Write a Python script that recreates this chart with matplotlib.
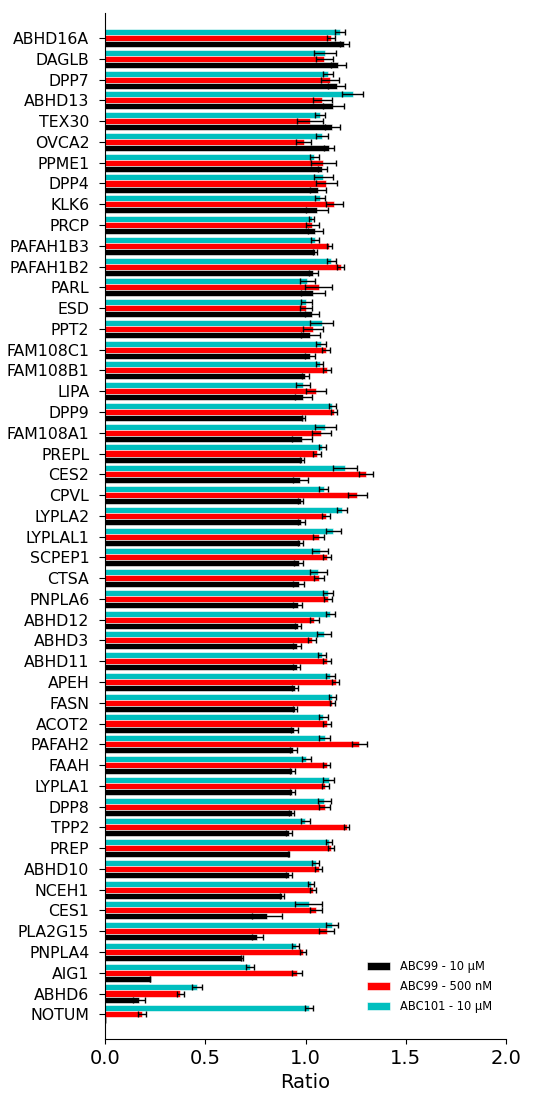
import numpy as np
import matplotlib
matplotlib.use("Agg")
import matplotlib.pyplot as plt

# Enzyme targets, top to bottom
targets = ["ABHD16A", "DAGLB", "DPP7", "ABHD13", "TEX30", "OVCA2", "PPME1", "DPP4",
           "KLK6", "PRCP", "PAFAH1B3", "PAFAH1B2", "PARL", "ESD", "PPT2", "FAM108C1",
           "FAM108B1", "LIPA", "DPP9", "FAM108A1", "PREPL", "CES2", "CPVL", "LYPLA2",
           "LYPLAL1", "SCPEP1", "CTSA", "PNPLA6", "ABHD12", "ABHD3", "ABHD11", "APEH",
           "FASN", "ACOT2", "PAFAH2", "FAAH", "LYPLA1", "DPP8", "TPP2", "PREP",
           "ABHD10", "NCEH1", "CES1", "PLA2G15", "PNPLA4", "AIG1", "ABHD6", "NOTUM"]

# ABC99 - 10 uM (black)
abc99_10 = [1.194, 1.164, 1.155, 1.139, 1.134, 1.119, 1.084, 1.061,
            1.056, 1.049, 1.046, 1.039, 1.036, 1.031, 1.024, 1.022,
            0.999, 0.989, 0.989, 0.984, 0.983, 0.974, 0.976, 0.978,
            0.974, 0.966, 0.966, 0.961, 0.963, 0.958, 0.956, 0.949,
            0.948, 0.944, 0.939, 0.934, 0.934, 0.931, 0.919, 0.916,
            0.919, 0.883, 0.808, 0.760, 0.683, 0.224, 0.170, 0.0]
abc99_10_err = [0.022, 0.037, 0.044, 0.052, 0.036, 0.025, 0.022, 0.039,
                0.054, 0.036, 0.010, 0.021, 0.060, 0.035, 0.047, 0.025,
                0.018, 0.042, 0.008, 0.050, 0.011, 0.036, 0.012, 0.017,
                0.014, 0.022, 0.027, 0.022, 0.015, 0.019, 0.017, 0.014,
                0.008, 0.017, 0.017, 0.012, 0.012, 0.012, 0.014, 0.003,
                0.014, 0.010, 0.077, 0.029, 0.007, 0.0, 0.029, 0.0]

# ABC99 - 500 nM (red)
abc99_500 = [1.127, 1.094, 1.122, 1.084, 1.022, 0.991, 1.089, 1.104,
             1.144, 1.034, 1.119, 1.175, 1.066, 1.001, 1.037, 1.102,
             1.106, 1.051, 1.142, 1.079, 1.057, 1.303, 1.259, 1.102,
             1.066, 1.107, 1.067, 1.114, 1.044, 1.032, 1.107, 1.150,
             1.134, 1.107, 1.269, 1.106, 1.099, 1.096, 1.205, 1.127,
             1.066, 1.037, 1.051, 1.106, 0.988, 0.958, 0.376, 0.185]
abc99_500_err = [0.022, 0.044, 0.046, 0.047, 0.064, 0.036, 0.061, 0.052,
                 0.042, 0.032, 0.014, 0.017, 0.068, 0.029, 0.052, 0.022,
                 0.021, 0.049, 0.013, 0.048, 0.019, 0.035, 0.049, 0.022,
                 0.027, 0.018, 0.026, 0.020, 0.022, 0.018, 0.018, 0.017,
                 0.012, 0.018, 0.036, 0.017, 0.018, 0.027, 0.012, 0.014,
                 0.018, 0.015, 0.029, 0.037, 0.015, 0.023, 0.018, 0.018]

# ABC101 - 10 uM (cyan)
abc101_10 = [1.172, 1.097, 1.114, 1.235, 1.072, 1.081, 1.044, 1.089,
             1.072, 1.031, 1.047, 1.129, 1.009, 1.004, 1.081, 1.077,
             1.071, 0.988, 1.134, 1.099, 1.084, 1.197, 1.091, 1.182,
             1.139, 1.072, 1.064, 1.114, 1.124, 1.091, 1.082, 1.124,
             1.134, 1.089, 1.096, 1.004, 1.116, 1.094, 0.999, 1.116,
             1.051, 1.029, 1.017, 1.131, 0.951, 0.722, 0.457, 1.017]
abc101_10_err = [0.025, 0.055, 0.025, 0.052, 0.025, 0.031, 0.022, 0.046,
                 0.025, 0.012, 0.020, 0.023, 0.037, 0.027, 0.058, 0.025,
                 0.018, 0.035, 0.016, 0.052, 0.016, 0.062, 0.022, 0.027,
                 0.037, 0.038, 0.042, 0.025, 0.022, 0.036, 0.019, 0.022,
                 0.017, 0.022, 0.027, 0.021, 0.027, 0.031, 0.023, 0.015,
                 0.017, 0.015, 0.067, 0.029, 0.017, 0.021, 0.025, 0.021]

series = [
    (abc101_10, abc101_10_err, "#00bfbf", "ABC101 - 10 µM", -0.29),
    (abc99_500, abc99_500_err, "#ff0000", "ABC99 - 500 nM", 0.0),
    (abc99_10, abc99_10_err, "#000000", "ABC99 - 10 µM", 0.29),
]

fig = plt.figure(figsize=(5.55, 10.99), dpi=100)
ax = fig.add_axes([0.189, 0.0546, 0.723, 0.9334])

y = np.arange(len(targets))
handles = {}
for vals, errs, color, label, off in series:
    bars = ax.barh(y + off, vals, height=0.29, color=color, edgecolor="white",
                   linewidth=0.4, label=label)
    ax.errorbar(vals, y + off, xerr=errs, fmt="none", ecolor="black",
                elinewidth=1.0, capsize=2, capthick=1.0)
    handles[label] = bars

ax.set_yticks(y)
ax.set_yticklabels(targets, fontsize=11.3)
ax.tick_params(axis="y", length=4.2, pad=7)
ax.set_ylim(len(targets) - 1 + 1.19, -1.2)
ax.set_xlim(0, 2.0)
ax.set_xticks([0.0, 0.5, 1.0, 1.5, 2.0])
ax.tick_params(axis="x", labelsize=14)
ax.set_xlabel("Ratio", fontsize=14)
ax.spines["top"].set_visible(False)
ax.spines["right"].set_visible(False)

order = ["ABC99 - 10 µM", "ABC99 - 500 nM", "ABC101 - 10 µM"]
ax.legend([handles[k] for k in order], order, loc="lower right", fontsize=8.3,
          frameon=False, bbox_to_anchor=(0.99, 0.015), labelspacing=0.6)

fig.savefig("out.png", dpi=100)
